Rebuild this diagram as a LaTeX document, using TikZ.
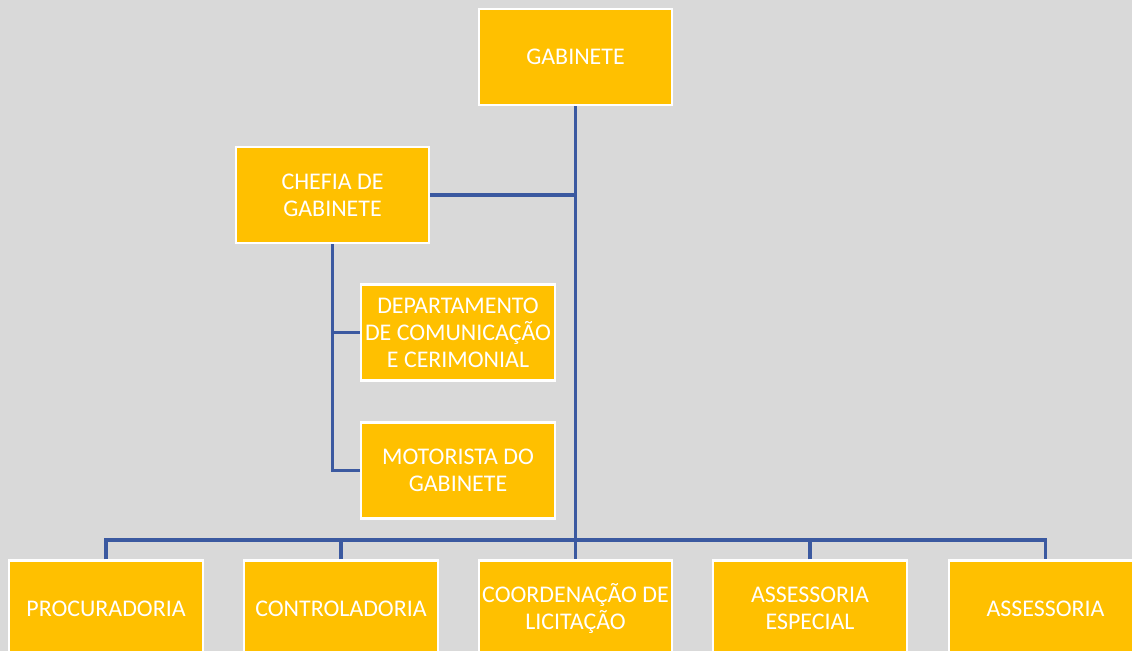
\documentclass[tikz,border=0pt]{standalone}
\usepackage{fontspec}
\setmainfont{Carlito}

\definecolor{bggray}{HTML}{D9D9D9}
\definecolor{boxgold}{HTML}{FFC000}
\definecolor{linkblue}{RGB}{59,89,160}

\tikzset{
	unit/.style = {draw = white, line width = 1.5pt, fill = boxgold, text = white,
		minimum width = 4.83cm, minimum height = 2.4cm, inner sep = 0pt, align = center,
		font = \fontsize{17}{19.3}\selectfont},
	link/.style = {draw = linkblue, line width = 2.3pt}
}

\begin{document}
\begin{tikzpicture}[x = 0.025cm, y = -0.025cm]

	% Background
	
	\fill [bggray] (0, 0) rectangle (1132, 651);
	\useasboundingbox (0, 0) rectangle (1132, 651);
	\clip (0, 0) rectangle (1132, 651);
	
	% Top level
	
	\node [unit] (gab) at (575.5, 57) {GABINETE};
	\node [unit] (chefia) at (332.5, 195) {CHEFIA DE\\GABINETE};
	
	% Units under the chief of staff
	
	\node [unit] (depcom) at (458, 332.5) {DEPARTAMENTO\\DE COMUNICAÇÃO\\E CERIMONIAL};
	\node [unit] (motor) at (458, 470.5) {MOTORISTA DO\\GABINETE};
	
	% Bottom row
	
	\node [unit] (proc) at (106, 608.5) {PROCURADORIA};
	\node [unit] (ctrl) at (341, 608.5) {CONTROLADORIA};
	\node [unit] (licit) at (575.5, 608.5) {COORDENAÇÃO DE\\LICITAÇÃO};
	\node [unit] (assesp) at (810, 608.5) {ASSESSORIA\\ESPECIAL};
	\node [unit] (asses) at (1045.5, 608.5) {ASSESSORIA};
	
	\coordinate (bus) at (575.5, 540);
	
	% Connectors
	
	\draw [link] (gab.south) -- (licit.north);
	\draw [link] (chefia.east) -- (chefia.east -| gab.south);
	\draw [link] (chefia.south) |- (motor.west);
	\draw [link] (chefia.south |- depcom.west) -- (depcom.west);
	\draw [link] (proc.north) |- (bus) -| (asses.north);
	\draw [link] (ctrl.north) -- (ctrl.north |- bus);
	\draw [link] (assesp.north) -- (assesp.north |- bus);

\end{tikzpicture}
\end{document}
